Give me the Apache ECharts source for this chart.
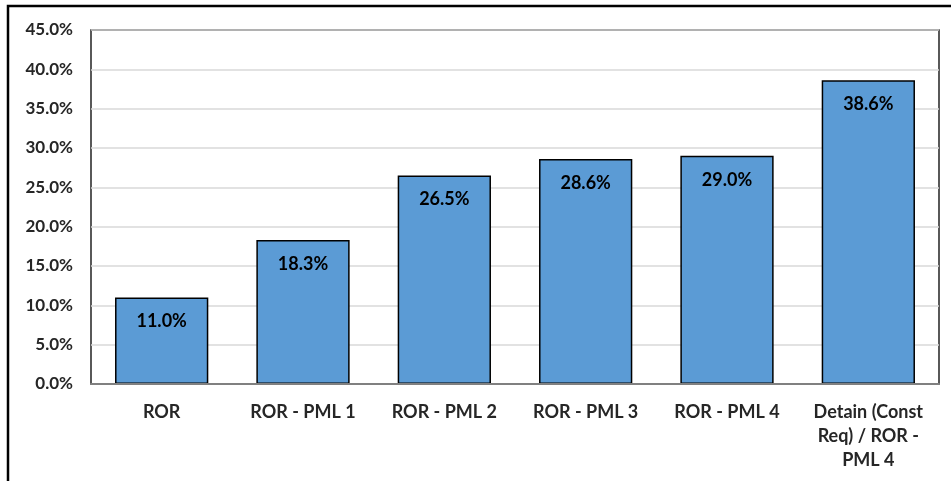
<!DOCTYPE html>
<html>
<head>
<meta charset="utf-8">
<script src="https://cdn.jsdelivr.net/npm/echarts@6/dist/echarts.min.js"></script>
<style>
  html, body { margin: 0; padding: 0; background: #fff; }
  #main { width: 951px; height: 481px; }
</style>
</head>
<body>
<div id="main"></div>
<script>
// categories and values (percent)
var categories = ['ROR', 'ROR - PML 1', 'ROR - PML 2', 'ROR - PML 3', 'ROR - PML 4', 'Detain (Const\nReq) / ROR -\nPML 4'];
var values = [11.0, 18.3, 26.5, 28.6, 29.0, 38.6];
var yTicks = { min: 0, max: 45, step: 5 };

var chart = echarts.init(document.getElementById('main'));
var font = 'Lato, "Open Sans", sans-serif';

var option = {
    animation: false,
    backgroundColor: '#fff',
    graphic: [{
        type: 'rect',
        shape: { x: 8, y: 6, width: 1000, height: 600 },
        style: { fill: 'none', stroke: '#000', lineWidth: 2.5 },
        z: 100
    }],
    grid: {
        left: 91,
        top: 30,
        right: 12,
        bottom: 97,
        show: true,
        borderColor: '#000',
        borderWidth: 1.3
    },
    xAxis: {
        type: 'category',
        data: categories,
        axisTick: { show: false },
        axisLine: { lineStyle: { color: '#808080', width: 2 } },
        z: 10,
        axisLabel: {
            interval: 0,
            margin: 16,
            color: '#262626',
            fontFamily: font,
            fontWeight: 'bold',
            fontSize: 18,
            lineHeight: 24
        }
    },
    yAxis: {
        type: 'value',
        min: yTicks.min,
        max: yTicks.max,
        interval: yTicks.step,
        axisLine: { show: false },
        axisTick: { show: false },
        splitLine: { lineStyle: { color: '#d9d9d9', width: 1.5 } },
        axisLabel: {
            margin: 18,
            color: '#262626',
            fontFamily: font,
            fontWeight: 'bold',
            fontSize: 17,
            formatter: function (v) { return v.toFixed(1) + '%'; }
        }
    },
    series: [{
        type: 'bar',
        data: values,
        barWidth: '66%',
        itemStyle: {
            color: '#5b9bd5',
            borderColor: '#000',
            borderWidth: 1.5
        },
        label: {
            show: true,
            position: 'insideTop',
            distance: 15,
            color: '#000',
            fontFamily: font,
            fontWeight: 'bold',
            fontSize: 18,
            formatter: function (p) { return p.value.toFixed(1) + '%'; }
        }
    }]
};
chart.setOption(option);
</script>
</body>
</html>
